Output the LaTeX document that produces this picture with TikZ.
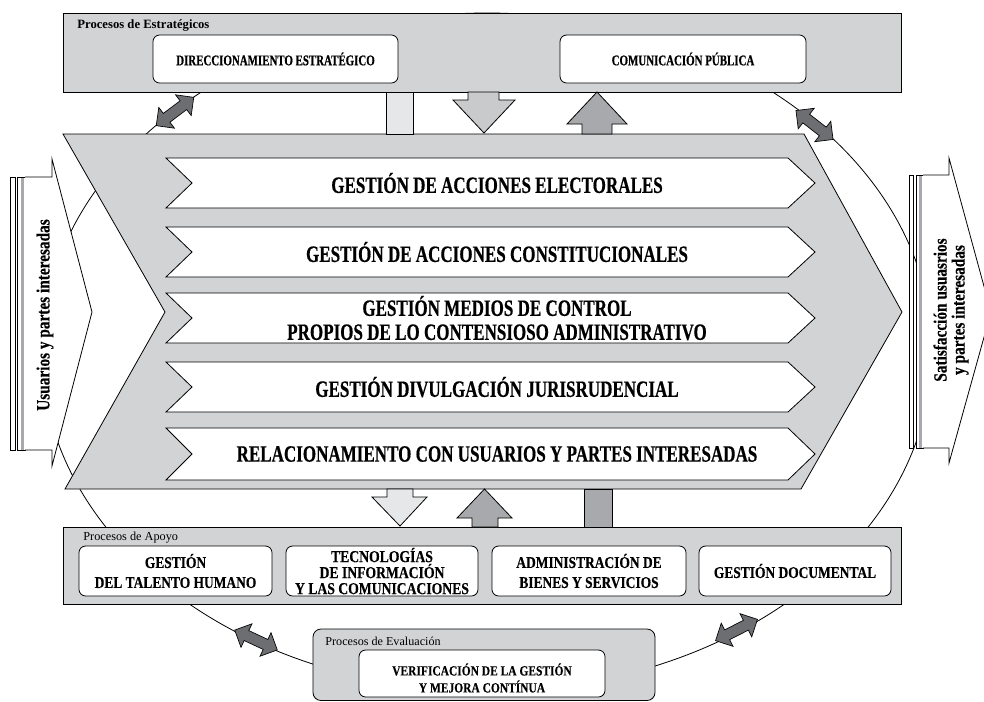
\documentclass[tikz,border=0pt]{standalone}
\usepackage{fontspec}
\setmainfont{Liberation Serif}
\newfontfamily\cfa{Liberation Serif}[FakeStretch=0.73,FakeBold=0.5]
\newfontfamily\cfb{Liberation Serif}[FakeStretch=0.82,FakeBold=0.3]
\definecolor{boxgray}{HTML}{D1D3D4}
\definecolor{lightgray}{HTML}{E6E7E8}
\definecolor{midgray}{HTML}{C9CACC}
\definecolor{dkgray}{HTML}{A7A9AC}
\definecolor{dblgray}{HTML}{6D6E71}
\begin{document}
\begin{tikzpicture}[x=0.75pt,y=-0.75pt,line width=0.6pt,
  panel/.style={draw=black,fill=boxgray},
  wbox/.style={draw=black,fill=white,rounded corners=5pt,align=center,inner sep=0pt},
  maintxt/.style={font=\cfa\bfseries\fontsize{17.5}{18}\selectfont,align=center,inner sep=0pt},
  toptxt/.style={font=\cfa\bfseries\fontsize{11.2}{13}\selectfont},
  apotxt/.style={font=\cfb\bfseries\fontsize{12.3}{15}\selectfont},
  sidetxt/.style={font=\cfb\bfseries\fontsize{14}{13.5}\selectfont,align=center,inner sep=0pt,rotate=90},
  evtxt/.style={font=\cfb\bfseries\fontsize{10.5}{12.75}\selectfont,align=center,inner sep=0pt},
  lbl/.style={anchor=west,inner sep=0pt},
  chev/.style={draw=black,fill=white},
  blk/.style={draw=black},
  dbl/.pic={\path[draw=black,fill=dblgray,line width=0.5pt]
     (-23.5,0) -- (-10.5,13) -- (-10.5,5.5) -- (10.5,5.5) -- (10.5,13) -- (23.5,0)
     -- (10.5,-13) -- (10.5,-5.5) -- (-10.5,-5.5) -- (-10.5,-13) -- cycle;}
]
\useasboundingbox (0,0) rectangle (984,701);
\path[clip] (0,0) rectangle (984,701);

% cycle ellipse
\draw[line width=0.6pt] (487,352) ellipse [x radius=333.75pt, y radius=254.25pt];

% panels
\draw[panel] (63,13) rectangle (901,92);
\draw[panel] (63,527) rectangle (901,604);
\draw[panel,rounded corners=6pt] (313,629) rectangle (655,700.5);

% big chevron
\draw[panel] (63,134) -- (804,134) -- (902,312) -- (801,489) -- (65,489) -- (165,312) -- cycle;
\foreach \t/\b in {158/208,227/277,293/343,362/412,428/480}{
  \pgfmathsetmacro{\m}{(\t+\b)/2}
  \draw[chev] (166,\t) -- (788,\t) -- (815,\m) -- (788,\b) -- (166,\b) -- (192,\m) -- cycle;
}

% arrows between top panel and chevron
\draw[blk,fill=lightgray] (386,92) rectangle (413,134);
\draw[blk,fill=midgray] (468,92) -- (499,92) -- (499,100) -- (515,100) -- (484,133) -- (453,100) -- (468,100) -- cycle;
\draw[blk,fill=dkgray] (582,134) -- (612,134) -- (612,124) -- (627,124) -- (597,92) -- (567,124) -- (582,124) -- cycle;

% arrows between chevron and support panel
\draw[blk,fill=lightgray] (387,489) -- (413,489) -- (413,497) -- (427,497) -- (400,526) -- (372,497) -- (387,497) -- cycle;
\draw[blk,fill=dkgray] (472,527) -- (498,527) -- (498,518) -- (512,518) -- (484.5,489) -- (457,518) -- (472,518) -- cycle;
\draw[blk,fill=dkgray] (584,489) rectangle (612,527);

% left input arrow
\draw[blk,fill=white] (10,177) rectangle (15,450);
\draw[blk,fill=white] (17,177) rectangle (25,450);
\fill[dkgray] (20.5,177.5) rectangle (24,449.5);
\draw[blk,fill=white] (25,177) -- (52,177) -- (52,159) -- (92,312) -- (52,466) -- (52,450) -- (25,450);
\node[sidetxt] (usr) at (45,315) {Usuarios y partes interesadas};

% right output arrow
\draw[blk,fill=white] (909,175) rectangle (913,448);
\draw[blk,fill=white] (916,175) rectangle (923,448);
\fill[dkgray] (918.5,175.5) rectangle (921.5,447.5);
\draw[blk,fill=white] (923,175) -- (949,175) -- (949,158) -- (991,312) -- (949,463) -- (949,448) -- (923,448);
\node[sidetxt] (sat) at (951,310) {Satisfacción usuasrios\\y partes interesadas};

% double arrows on the cycle
\pic[rotate=37] at (175,111.5) {dbl};
\pic[rotate=-38] at (814.5,125) {dbl};
\pic[rotate=-25] at (256,640) {dbl};
\pic[rotate=27] at (736.5,630) {dbl};

% strategic processes
\node[lbl,font=\bfseries\fontsize{9.5}{11}\selectfont] (lblE) at (77,25) {Procesos de Estratégicos};
\node[wbox,toptxt,minimum width=183.75pt,minimum height=36pt] (dir) at (275.5,59) {DIRECCIONAMIENTO ESTRATÉGICO};
\node[wbox,toptxt,minimum width=184.5pt,minimum height=36pt] (com) at (683,59) {COMUNICACIÓN PÚBLICA};

% mission processes
\node[maintxt] (m1) at (497,183) {GESTIÓN DE ACCIONES ELECTORALES};
\node[maintxt] (m2) at (497,252) {GESTIÓN DE ACCIONES CONSTITUCIONALES};
\node[maintxt] (m3) at (497,318) {GESTIÓN MEDIOS DE CONTROL\\PROPIOS DE LO CONTENSIOSO ADMINISTRATIVO};
\node[maintxt] (m4) at (497,387) {GESTIÓN DIVULGACIÓN JURISRUDENCIAL};
\node[maintxt] (m5) at (497,454) {RELACIONAMIENTO CON USUARIOS Y PARTES INTERESADAS};

% support processes
\node[lbl,font=\fontsize{9.2}{11}\selectfont] (lblA) at (83,538) {Procesos de Apoyo};
\node[wbox,apotxt,minimum width=144.75pt,minimum height=37.5pt] (a1) at (175.5,571) {GESTIÓN\\DEL TALENTO HUMANO};
\node[wbox,apotxt,minimum width=144pt,minimum height=37.5pt,font=\cfb\bfseries\fontsize{12.5}{12}\selectfont] (a2) at (382,571) {TECNOLOGÍAS\\DE INFORMACIÓN\\Y LAS COMUNICACIONES};
\node[wbox,apotxt,minimum width=145.5pt,minimum height=37.5pt] (a3) at (589,571) {ADMINISTRACIÓN DE\\BIENES Y SERVICIOS};
\node[wbox,apotxt,minimum width=144pt,minimum height=37.5pt] (a4) at (795,571) {GESTIÓN DOCUMENTAL};

% evaluation processes
\node[lbl,font=\fontsize{9.1}{11}\selectfont] (lblV) at (325,641) {Procesos de Evaluación};
\node[wbox,minimum width=184.5pt,minimum height=35.25pt] (v1) at (482,673.5) {};
\node[evtxt] (v1t) at (482,678) {VERIFICACIÓN DE LA GESTIÓN\\Y MEJORA CONTÍNUA};
\end{tikzpicture}
\end{document}
